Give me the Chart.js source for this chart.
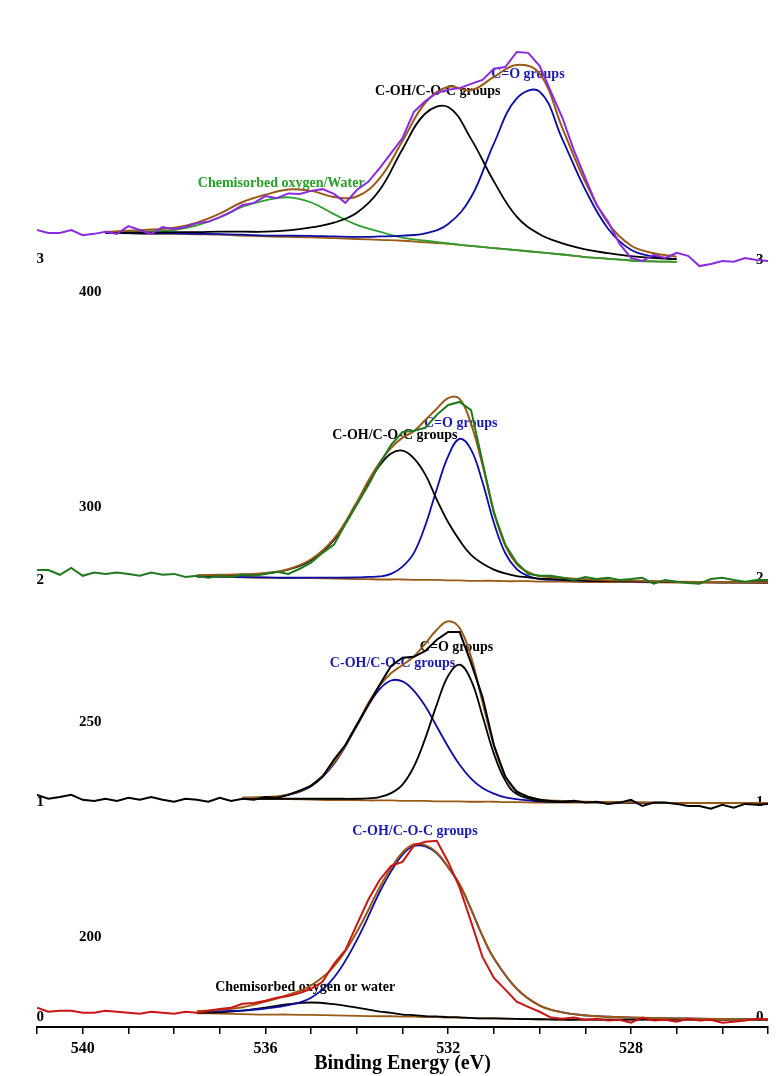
<!DOCTYPE html>
<html>
<head>
<meta charset="utf-8">
<script src="https://cdn.jsdelivr.net/npm/chart.js@4.4.0/dist/chart.umd.min.js"></script>
<style>
  html, body { margin: 0; padding: 0; background: #fff; }
  #wrap { width: 778px; height: 1076px; }
</style>
</head>
<body>
<div id="wrap"><canvas id="xpsChart" width="778" height="1076"></canvas></div>
<script>
// binding energy grid of the measured spectra (eV)
const rawEnergy = [541, 540.75, 540.5, 540.25, 540, 539.75, 539.5, 539.25, 539, 538.75, 538.5, 538.25, 538, 537.75, 537.5, 537.25, 537, 536.75, 536.5, 536.25, 536, 535.75, 535.5, 535.25, 535, 534.75, 534.5, 534.25, 534, 533.75, 533.5, 533.25, 533, 532.75, 532.5, 532.25, 532, 531.75, 531.5, 531.25, 531, 530.75, 530.5, 530.25, 530, 529.75, 529.5, 529.25, 529, 528.75, 528.5, 528.25, 528, 527.75, 527.5, 527.25, 527, 526.75, 526.5, 526.25, 526, 525.75, 525.5, 525.25, 525];

// measured spectra, stacked (3 = top ... 0 = bottom)
const raw3 = [364.4, 363.7, 363.7, 364.4, 363.2, 363.5, 364.0, 363.5, 365.3, 364.4, 363.5, 365.1, 364.6, 365.1, 366.0, 366.3, 367.4, 368.6, 370.2, 370.7, 372.3, 371.8, 372.9, 372.8, 373.5, 373.9, 372.8, 370.7, 373.7, 375.6, 378.8, 382.3, 385.8, 391.9, 394.4, 396.3, 397.0, 397.4, 398.4, 399.3, 401.9, 402.3, 405.8, 405.6, 402.6, 396.5, 390.5, 383.0, 376.5, 370.2, 366.3, 361.2, 357.9, 357.2, 358.6, 357.9, 359.1, 358.4, 356.0, 356.5, 357.2, 357.0, 357.9, 357.4, 357.2];
const raw2 = [285.3, 285.3, 284.2, 285.8, 283.95, 284.7, 284.4, 284.7, 284.4, 283.95, 284.7, 284.2, 284.4, 283.7, 283.95, 283.5, 283.95, 283.7, 284.2, 283.95, 284.4, 284.9, 284.4, 285.6, 287.0, 289.3, 291.2, 296.0, 300.5, 305.0, 310.0, 314.4, 317.4, 317.7, 318.4, 321.4, 323.7, 324.4, 322.5, 310.5, 298.6, 291.2, 287.0, 284.4, 283.95, 283.95, 283.5, 283.0, 283.7, 283.2, 283.5, 283.0, 283.2, 283.5, 282.1, 283.0, 282.6, 282.3, 282.1, 283.2, 283.5, 283.0, 282.6, 283.0, 283.0];
const raw1 = [233.0, 232.1, 232.5, 233.0, 231.85, 231.6, 232.1, 231.6, 232.3, 231.85, 232.5, 231.85, 231.4, 232.1, 231.85, 231.4, 232.3, 231.6, 232.1, 231.85, 232.5, 232.3, 233.0, 233.95, 235.1, 237.2, 241.2, 244.6, 249.3, 253.9, 258.6, 263.0, 264.9, 265.1, 266.5, 269.1, 270.9, 270.9, 263.7, 255.8, 244.6, 237.2, 233.7, 232.5, 231.85, 231.6, 231.4, 231.6, 231.2, 231.4, 230.9, 231.2, 231.85, 230.4, 231.2, 231.2, 230.9, 230.4, 230.4, 229.8, 230.7, 230.0, 230.9, 230.7, 230.9];
const raw0 = [183.5, 182.55, 182.8, 182.8, 182.3, 182.3, 182.8, 182.55, 182.3, 182.1, 182.55, 182.3, 182.1, 182.55, 182.3, 182.8, 183.2, 183.5, 184.4, 184.6, 185.1, 185.8, 186.2, 186.9, 187.9, 189.5, 193.7, 196.9, 202.8, 208.6, 213.2, 216.5, 217.4, 221.2, 222.1, 222.3, 217.4, 211.4, 203.5, 195.3, 190.4, 187.7, 184.9, 183.7, 182.55, 181.2, 180.9, 181.2, 180.7, 180.9, 180.5, 180.7, 180.0, 181.2, 180.5, 180.7, 180.2, 180.9, 180.5, 180.7, 180.0, 180.2, 180.5, 180.9, 180.7];

// spectrum 3 fit
const fitEnergy3 = [539.5, 539, 538.5, 538, 537.5, 537, 536.5, 536, 535.5, 535, 534.5, 534, 533.5, 533, 532.5, 532, 531.5, 531, 530.5, 530, 529.5, 529, 528.5, 528, 527.5, 527];
const bg3 = [363.7, 363.6, 363.5, 363.5, 363.4, 363.3, 363.1, 362.9, 362.8, 362.7, 362.5, 362.3, 362.1, 361.9, 361.5, 361.2, 360.7, 360.2, 359.7, 359.2, 358.7, 358.1, 357.7, 357.3, 357.1, 357.0];
const coh3 = [363.8, 363.8, 363.8, 363.9, 363.9, 364.0, 364.0, 364.0, 364.3, 365.0, 366.1, 368.4, 373.7, 383.2, 391.5, 393.0, 385.6, 375.7, 367.5, 363.4, 361.3, 359.9, 359.0, 358.3, 357.9, 357.6];
const co3 = [363.7, 363.65, 363.6, 363.6, 363.5, 363.45, 363.3, 363.1, 363.1, 363.05, 362.9, 362.8, 362.9, 363.1, 363.6, 365.8, 372.0, 384.5, 395.0, 396.6, 385.5, 373.8, 364.7, 359.8, 358.2, 357.6];
const chem3 = [363.9, 364.0, 364.1, 364.4, 365.5, 367.3, 369.8, 371.3, 372.0, 370.8, 368.1, 365.6, 364.0, 362.6, 361.9, 361.3, 360.7, 360.2, 359.7, 359.2, 358.7, 358.1, 357.7, 357.3, 357.1, 357.0];
const env3 = [364.0, 364.2, 364.5, 364.9, 366.1, 368.2, 370.9, 372.6, 373.8, 373.5, 372.1, 372.2, 376.4, 385.1, 394.0, 397.7, 396.9, 400.0, 402.8, 400.8, 388.1, 375.6, 366.0, 360.8, 359.0, 358.2];

// spectrum 2 fit
const fitEnergy2 = [537.5, 537, 536.5, 536, 535.5, 535, 534.5, 534, 533.75, 533.5, 533.25, 533, 532.75, 532.5, 532.25, 532, 531.75, 531.5, 531.25, 531, 530.75, 530.5, 530.25, 530, 529.5, 529, 528.5, 528, 527, 526, 525];
const bg2 = [283.7, 283.7, 283.6, 283.5, 283.4, 283.4, 283.3, 283.2, 283.2, 283.1, 283.1, 283.1, 283.0, 283.0, 283.0, 282.9, 282.9, 282.8, 282.8, 282.8, 282.7, 282.7, 282.7, 282.6, 282.6, 282.5, 282.5, 282.5, 282.4, 282.4, 282.4];
const coh2 = [284.0, 284.1, 284.2, 284.5, 285.4, 287.6, 292.3, 300.7, 305.5, 309.6, 312.4, 313.1, 311.3, 307.5, 301.7, 296.4, 292.2, 288.8, 286.8, 285.4, 284.5, 283.9, 283.6, 283.3, 283.1, 282.85, 282.75, 282.7, 282.5, 282.45, 282.4];
const co2 = [283.75, 283.75, 283.65, 283.6, 283.5, 283.55, 283.55, 283.6, 283.7, 283.8, 284.4, 286.1, 289.3, 295.7, 304.1, 311.8, 315.8, 313.3, 305.8, 296.3, 289.2, 285.5, 283.9, 283.2, 283.0, 282.8, 282.7, 282.65, 282.5, 282.45, 282.4];
const env2 = [284.1, 284.2, 284.3, 284.6, 285.5, 287.8, 292.6, 301.1, 306.0, 310.3, 313.7, 316.1, 317.6, 320.2, 322.8, 325.3, 325.1, 319.3, 309.8, 298.9, 291.0, 286.7, 284.8, 283.9, 283.5, 283.15, 282.95, 282.85, 282.6, 282.5, 282.4];

// spectrum 1 fit
const fitEnergy1 = [536.5, 536, 535.5, 535, 534.5, 534, 533.75, 533.5, 533.25, 533, 532.75, 532.5, 532.25, 532, 531.75, 531.5, 531.25, 531, 530.75, 530.5, 530, 529.5, 529, 528, 527, 526, 525];
const bg1 = [232.1, 232.0, 232.0, 231.9, 231.8, 231.8, 231.7, 231.7, 231.7, 231.6, 231.6, 231.6, 231.5, 231.5, 231.5, 231.4, 231.4, 231.4, 231.3, 231.3, 231.2, 231.2, 231.2, 231.2, 231.1, 231.1, 231.1];
const coh1 = [232.3, 232.4, 233.0, 235.0, 240.2, 249.0, 253.8, 257.6, 259.6, 259.4, 257.2, 253.6, 248.9, 244.2, 240.0, 236.8, 234.6, 233.3, 232.4, 232.0, 231.5, 231.4, 231.3, 231.2, 231.1, 231.1, 231.1];
const co1 = [232.2, 232.1, 232.1, 232.1, 232.1, 232.1, 232.2, 232.5, 233.4, 235.4, 239.6, 246.2, 254.0, 260.7, 263.3, 259.7, 251.4, 242.6, 236.3, 233.2, 231.6, 231.4, 231.3, 231.2, 231.1, 231.1, 231.1];
const env1 = [232.4, 232.5, 233.1, 235.2, 240.5, 249.3, 254.3, 258.4, 261.3, 263.2, 265.2, 268.2, 271.4, 273.4, 271.8, 265.1, 254.6, 244.5, 237.4, 233.9, 231.9, 231.6, 231.4, 231.3, 231.1, 231.1, 231.1];

// spectrum 0 fit
const fitEnergy0 = [537.5, 537, 536.5, 536, 535.5, 535, 534.5, 534, 533.5, 533.25, 533, 532.75, 532.5, 532.25, 532, 531.75, 531.5, 531.25, 531, 530.5, 530, 529.5, 529, 528.5, 528, 527, 526, 525];
const bg0 = [182.2, 182.1, 182.0, 181.9, 181.9, 181.8, 181.7, 181.6, 181.5, 181.5, 181.4, 181.4, 181.3, 181.3, 181.2, 181.2, 181.1, 181.0, 181.0, 180.9, 180.8, 180.7, 180.7, 180.7, 180.7, 180.7, 180.7, 180.7];
const coh0 = [182.6, 182.7, 182.8, 183.3, 184.1, 185.8, 190.5, 199.2, 210.4, 215.2, 219.1, 221.1, 221.0, 219.4, 216.1, 212.1, 206.4, 200.2, 195.0, 187.9, 184.0, 182.4, 181.7, 181.4, 181.2, 181.0, 180.85, 180.8];
const chem0 = [182.3, 182.4, 182.8, 183.5, 184.3, 184.7, 184.3, 183.5, 182.6, 182.3, 181.9, 181.75, 181.55, 181.45, 181.3, 181.25, 181.1, 181.0, 181.0, 180.9, 180.8, 180.7, 180.7, 180.7, 180.7, 180.7, 180.7, 180.7];
const env0 = [182.7, 183.0, 183.6, 184.9, 186.5, 188.7, 193.1, 201.1, 211.5, 216.0, 219.6, 221.5, 221.3, 219.6, 216.2, 212.2, 206.4, 200.2, 195.0, 187.9, 184.0, 182.4, 181.7, 181.4, 181.2, 181.0, 180.85, 180.8];

// axis ticks
const xTickLabels = [540, 536, 532, 528];
const yTickValues = [200, 250, 300, 350];
const yTickLabels = ['200', '250', '300', '400'];

// colours
const BROWN = '#9a5a16';
const BLUE = '#0c0ca6';
const BLACK = '#000000';
const SERIF = '"Liberation Serif", "Times New Roman", serif';

// text placed on the plot (energy, level)
const peakLabels = [
    { text: 'C-OH/C-O-C groups', energy: 533.6, level: 396.7, color: BLACK },
    { text: 'C=O groups', energy: 531.06, level: 400.5, color: '#1a1ab0' },
    { text: 'Chemisorbed oxygen/Water', energy: 537.48, level: 375.3, color: '#26a026' },
    { text: 'C-OH/C-O-C groups', energy: 534.54, level: 316.7, color: BLACK },
    { text: 'C=O groups', energy: 532.53, level: 319.3, color: '#1a1ab0' },
    { text: 'C=O groups', energy: 532.62, level: 267.2, color: BLACK },
    { text: 'C-OH/C-O-C groups', energy: 534.59, level: 263.5, color: '#1a1ab0' },
    { text: 'C-OH/C-O-C groups', energy: 534.1, level: 224.6, color: '#1a1ab0' },
    { text: 'Chemisorbed oxygen or water', energy: 537.1, level: 188.1, color: BLACK },
];
const spectrumTags = [
    { text: '3', left: 357.7, right: 357.4 },
    { text: '2', left: 283.0, right: 283.5 },
    { text: '1', left: 231.2, right: 231.2 },
    { text: '0', left: 181.4, right: 181.4 },
];

function line(label, xs, ys, color, width, smooth) {
    return {
        label: label,
        data: xs.map((x, i) => ({ x: x, y: ys[i] })),
        borderColor: color,
        borderWidth: width,
        pointRadius: 0,
        fill: false,
        tension: smooth ? 0.4 : 0,
    };
}

// first dataset ends up on top
const datasets = [
    line('Spectrum 3', rawEnergy, raw3, '#8a2be2', 2, false),
    line('Envelope 3', fitEnergy3, env3, BROWN, 2, true),
    line('C-OH 3', fitEnergy3, coh3, BLACK, 1.8, true),
    line('C=O 3', fitEnergy3, co3, BLUE, 1.8, true),
    line('Chemisorbed 3', fitEnergy3, chem3, '#2ca02c', 1.8, true),
    line('Background 3', fitEnergy3, bg3, BROWN, 1.8, true),

    line('Spectrum 2', rawEnergy, raw2, '#1f7a1f', 2, false),
    line('Envelope 2', fitEnergy2, env2, BROWN, 2, true),
    line('C-OH 2', fitEnergy2, coh2, BLACK, 1.8, true),
    line('C=O 2', fitEnergy2, co2, BLUE, 1.8, true),
    line('Background 2', fitEnergy2, bg2, BROWN, 1.8, true),

    line('Spectrum 1', rawEnergy, raw1, BLACK, 2, false),
    line('Envelope 1', fitEnergy1, env1, BROWN, 2, true),
    line('C=O 1', fitEnergy1, co1, BLACK, 1.8, true),
    line('C-OH 1', fitEnergy1, coh1, BLUE, 1.8, true),
    line('Background 1', fitEnergy1, bg1, BROWN, 1.8, true),

    line('Spectrum 0', rawEnergy, raw0, '#cc1414', 2, false),
    line('Envelope 0', fitEnergy0, env0, BROWN, 2, true),
    line('C-OH 0', fitEnergy0, coh0, BLUE, 1.8, true),
    line('Chemisorbed 0', fitEnergy0, chem0, BLACK, 1.8, true),
    line('Background 0', fitEnergy0, bg0, BROWN, 1.8, true),
];

// labels drawn under the curves, as in the original plot
const textPlugin = {
    id: 'spectrumText',
    beforeDatasetsDraw(chart) {
        const { ctx, scales: { x, y } } = chart;
        ctx.save();
        ctx.textBaseline = 'middle';
        ctx.textAlign = 'left';
        ctx.font = 'bold 14px ' + SERIF;
        peakLabels.forEach(l => {
            ctx.fillStyle = l.color;
            ctx.fillText(l.text, x.getPixelForValue(l.energy), y.getPixelForValue(l.level));
        });
        ctx.textAlign = 'center';
        ctx.font = 'bold 15px ' + SERIF;
        ctx.fillStyle = BLACK;
        spectrumTags.forEach(t => {
            ctx.fillText(t.text, x.getPixelForValue(540.93), y.getPixelForValue(t.left));
            ctx.fillText(t.text, x.getPixelForValue(525.18), y.getPixelForValue(t.right));
        });
        ctx.restore();
    },
};

const ctx = document.getElementById('xpsChart').getContext('2d');
const xpsChart = new Chart(ctx, {
    type: 'line',
    data: { datasets: datasets },
    plugins: [textPlugin],
    options: {
        responsive: false,
        animation: false,
        layout: { padding: { left: 0, right: 10, top: 0, bottom: 0 } },
        plugins: {
            legend: { display: false },
            tooltip: { enabled: false },
        },
        scales: {
            x: {
                type: 'linear',
                reverse: true,
                min: 525,
                max: 541,
                grid: { display: true, drawOnChartArea: false, drawTicks: true, tickLength: 7, color: BLACK, lineWidth: 1.5 },
                border: { display: true, color: BLACK, width: 2 },
                ticks: {
                    stepSize: 1,
                    autoSkip: false,
                    maxRotation: 0,
                    padding: 5,
                    color: BLACK,
                    font: { family: SERIF, size: 16, weight: 'bold' },
                    callback: v => xTickLabels.includes(v) ? String(v) : '',
                },
                title: {
                    display: true,
                    text: 'Binding Energy (eV)',
                    color: BLACK,
                    font: { family: SERIF, size: 20, weight: 'bold' },
                    padding: { top: 0, bottom: 0 },
                },
                afterFit: s => { s.height = 49; },
            },
            y: {
                type: 'linear',
                min: 179,
                max: 417.9,
                grid: { display: false },
                border: { display: false },
                afterBuildTicks: s => { s.ticks = yTickValues.map(v => ({ value: v })); },
                ticks: {
                    mirror: true,
                    padding: 42,
                    color: BLACK,
                    font: { family: SERIF, size: 15, weight: 'bold' },
                    callback: v => yTickLabels[yTickValues.indexOf(v)],
                },
                afterFit: s => {
                    s.width = 37;
                    s.paddingTop = 0;
                    s.paddingBottom = 0;
                },
            },
        },
    },
});
</script>
</body>
</html>
